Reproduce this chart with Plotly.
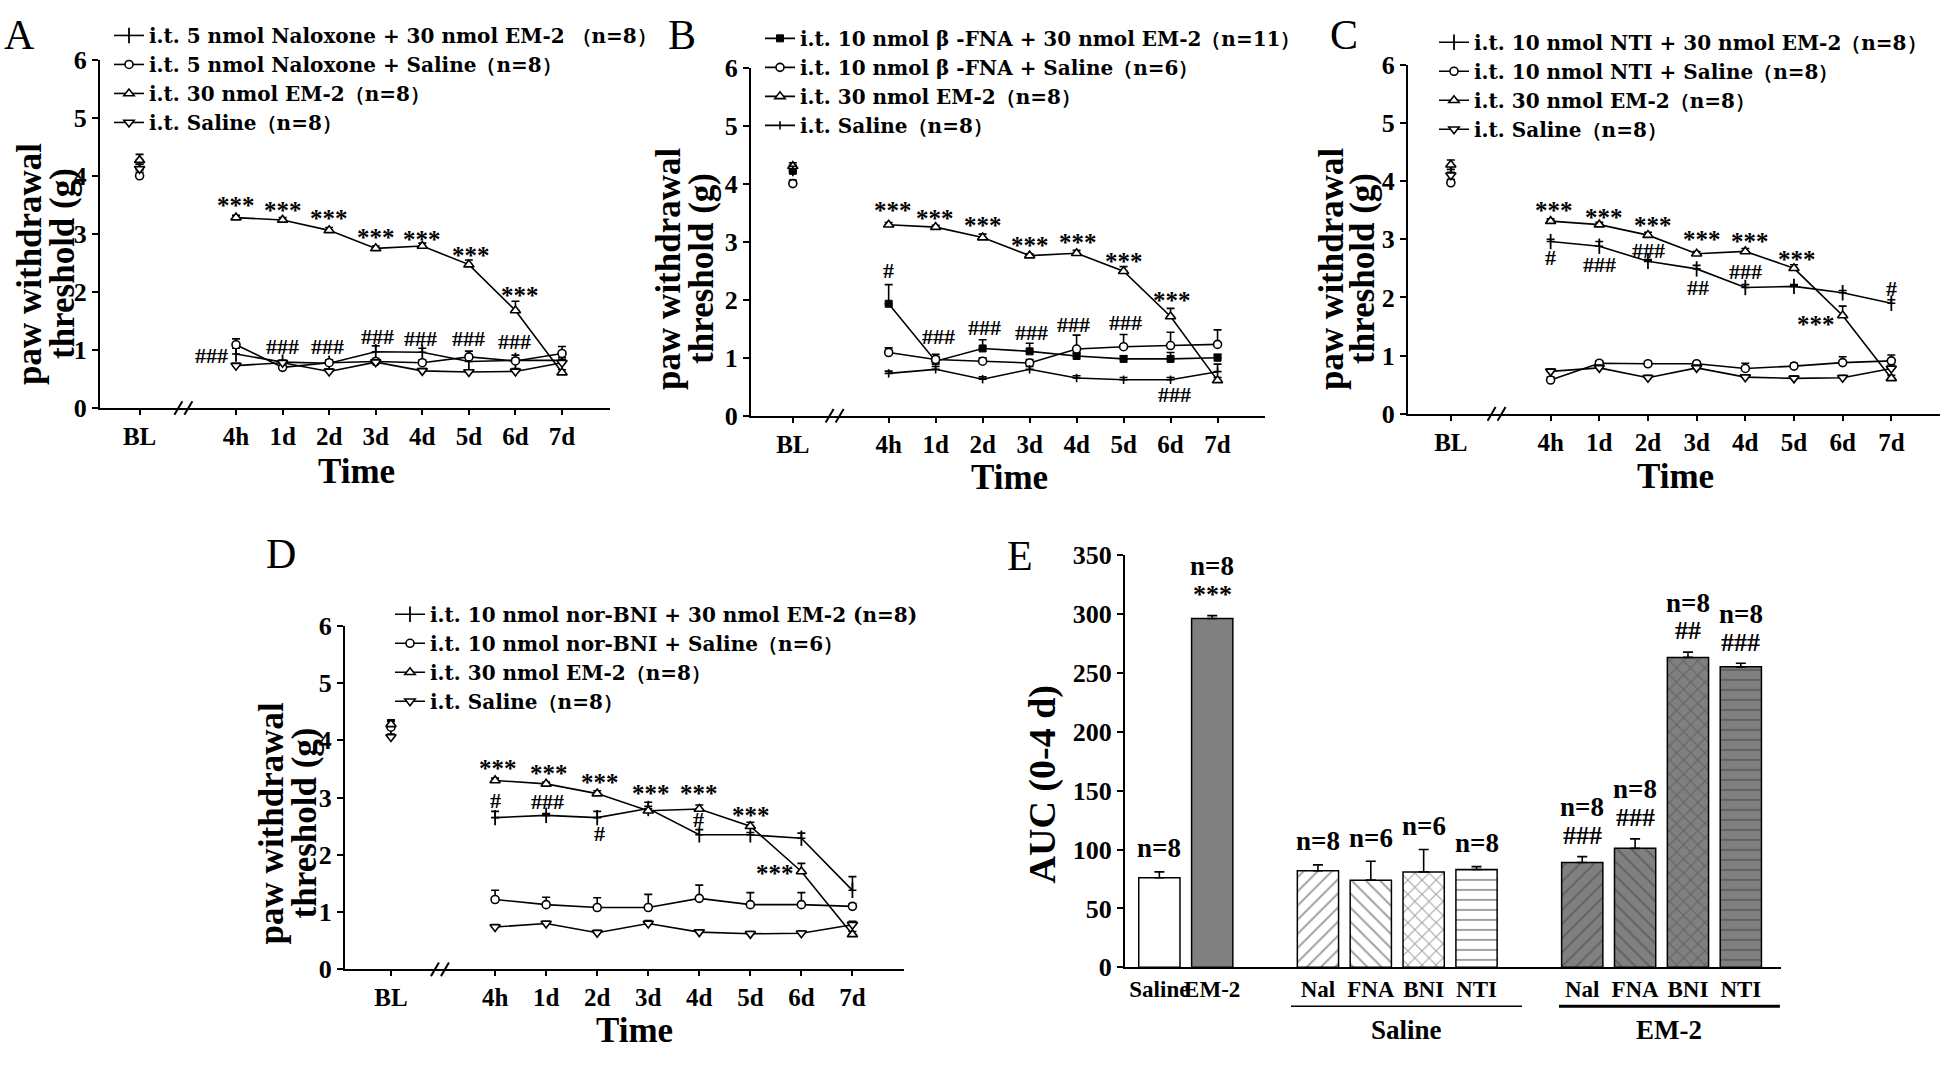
import plotly.graph_objects as go

W, H = 1946, 1067
SERIF = "Liberation Serif"
WIDE = "DejaVu Serif"

# ---------------- data ----------------
TIME_LABELS = ["BL", "4h", "1d", "2d", "3d", "4d", "5d", "6d", "7d"]

# Panel A
A_NAMES = ["i.t. 5 nmol Naloxone + 30 nmol EM-2 （n=8）",
           "i.t. 5 nmol Naloxone + Saline（n=8）",
           "i.t. 30 nmol EM-2（n=8）",
           "i.t. Saline（n=8）"]
A_NAL_EM2 = [4.10, 0.93, 0.79, 0.77, 0.97, 0.96, 0.80, 0.82, 0.82]
A_NAL_EM2_SEM = [0.10, 0.10, 0.03, 0.05, 0.10, 0.07, 0.05, 0.04, 0.05]
A_NAL_SAL = [4.00, 1.09, 0.70, 0.78, 0.80, 0.78, 0.88, 0.81, 0.94]
A_NAL_SAL_SEM = [0.06, 0.10, 0.03, 0.05, 0.05, 0.05, 0.10, 0.10, 0.12]
A_EM2 = [4.27, 3.28, 3.24, 3.06, 2.75, 2.79, 2.47, 1.68, 0.61]
A_EM2_SEM = [0.10, 0.04, 0.04, 0.05, 0.04, 0.05, 0.08, 0.16, 0.05]
A_SAL = [4.12, 0.73, 0.78, 0.63, 0.79, 0.64, 0.62, 0.63, 0.78]
A_SAL_SEM = [0.08, 0.04, 0.04, 0.04, 0.04, 0.04, 0.04, 0.05, 0.06]

# Panel B
B_NAMES = ["i.t. 10 nmol β -FNA + 30 nmol EM-2（n=11）",
           "i.t. 10 nmol β -FNA + Saline（n=6）",
           "i.t. 30 nmol EM-2（n=8）",
           "i.t. Saline（n=8）"]
B_FNA_EM2 = [4.22, 1.93, 0.94, 1.16, 1.11, 1.03, 0.98, 0.98, 1.00]
B_FNA_EM2_SEM = [0.10, 0.33, 0.12, 0.15, 0.14, 0.05, 0.05, 0.11, 0.06]
B_FNA_SAL = [4.00, 1.09, 0.97, 0.94, 0.91, 1.15, 1.19, 1.21, 1.23]
B_FNA_SAL_SEM = [0.06, 0.08, 0.05, 0.06, 0.06, 0.24, 0.21, 0.23, 0.25]
B_EM2 = [4.30, 3.29, 3.25, 3.07, 2.76, 2.80, 2.49, 1.71, 0.61]
B_EM2_SEM = [0.06, 0.04, 0.03, 0.06, 0.03, 0.05, 0.08, 0.14, 0.05]
B_SAL = [4.20, 0.73, 0.80, 0.63, 0.80, 0.65, 0.62, 0.62, 0.76]
B_SAL_SEM = [0.10, 0.04, 0.05, 0.04, 0.05, 0.04, 0.04, 0.04, 0.13]

# Panel C
C_NAMES = ["i.t. 10 nmol NTI + 30 nmol EM-2（n=8）",
           "i.t. 10 nmol NTI + Saline（n=8）",
           "i.t. 30 nmol EM-2（n=8）",
           "i.t. Saline（n=8）"]
C_NTI_EM2 = [4.15, 2.96, 2.88, 2.62, 2.49, 2.17, 2.19, 2.08, 1.90]
C_NTI_EM2_SEM = [0.10, 0.04, 0.08, 0.03, 0.06, 0.05, 0.03, 0.04, 0.06]
C_NTI_SAL = [3.97, 0.58, 0.87, 0.86, 0.86, 0.78, 0.82, 0.88, 0.91]
C_NTI_SAL_SEM = [0.06, 0.05, 0.04, 0.04, 0.03, 0.09, 0.05, 0.10, 0.10]
C_EM2 = [4.28, 3.31, 3.25, 3.07, 2.75, 2.79, 2.50, 1.69, 0.61]
C_EM2_SEM = [0.08, 0.04, 0.04, 0.05, 0.04, 0.05, 0.06, 0.16, 0.05]
C_SAL = [4.10, 0.73, 0.79, 0.62, 0.79, 0.63, 0.61, 0.62, 0.78]
C_SAL_SEM = [0.10, 0.04, 0.05, 0.04, 0.05, 0.04, 0.04, 0.04, 0.06]

# Panel D
D_NAMES = ["i.t. 10 nmol nor-BNI + 30 nmol EM-2 (n=8)",
           "i.t. 10 nmol nor-BNI + Saline（n=6）",
           "i.t. 30 nmol EM-2（n=8）",
           "i.t. Saline（n=8）"]
D_BNI_EM2 = [4.22, 2.65, 2.69, 2.65, 2.81, 2.35, 2.35, 2.29, 1.38]
D_BNI_EM2_SEM = [0.12, 0.11, 0.03, 0.11, 0.11, 0.09, 0.04, 0.09, 0.24]
D_BNI_SAL = [4.23, 1.22, 1.13, 1.08, 1.08, 1.24, 1.13, 1.13, 1.10]
D_BNI_SAL_SEM = [0.10, 0.16, 0.13, 0.17, 0.23, 0.23, 0.21, 0.21, 0.05]
D_EM2 = [4.28, 3.30, 3.24, 3.07, 2.77, 2.80, 2.50, 1.71, 0.61]
D_EM2_SEM = [0.08, 0.04, 0.03, 0.05, 0.08, 0.07, 0.07, 0.14, 0.05]
D_SAL = [4.06, 0.74, 0.80, 0.64, 0.80, 0.65, 0.62, 0.63, 0.78]
D_SAL_SEM = [0.05, 0.04, 0.04, 0.04, 0.05, 0.04, 0.04, 0.04, 0.06]

# Panel E
E_LABELS = ["Saline", "EM-2", "Nal", "FNA", "BNI", "NTI", "Nal", "FNA", "BNI", "NTI"]
E_AUC = [76, 296, 82, 74, 81, 83, 89, 101, 263, 255]
E_SEM = [5, 2.5, 5, 16, 19, 2.5, 5, 8, 4.5, 3]
E_N = ["n=8", "n=8", "n=8", "n=6", "n=6", "n=8", "n=8", "n=8", "n=8", "n=8"]
E_SIG = ["", "***", "", "", "", "", "###", "###", "##", "###"]
E_GROUPS = ["Saline", "EM-2"]

# significance labels (x in time-slot units, y in g)
A_MARKS = [(0, 3.48, "***"), (1, 3.40, "***"), (2, 3.26, "***"), (3, 2.93, "***"),
           (4, 2.90, "***"), (5.04, 2.62, "***"), (6.09, 1.93, "***"),
           (-0.52, 0.91, "###"), (1, 1.06, "###"), (1.96, 1.06, "###"), (3.04, 1.23, "###"),
           (3.96, 1.20, "###"), (5, 1.20, "###"), (5.98, 1.15, "###")]
B_MARKS = [(0.09, 3.54, "***"), (0.98, 3.40, "***"), (2.01, 3.27, "***"), (3, 2.93, "***"),
           (4.03, 2.99, "***"), (5.01, 2.65, "***"), (6.04, 1.99, "***"),
           (0, 2.5, "#"), (1.06, 1.36, "###"), (2.04, 1.52, "###"), (3.03, 1.44, "###"),
           (3.94, 1.58, "###"), (5.04, 1.61, "###"), (6.09, 0.36, "###")]
C_MARKS = [(0.06, 3.49, "***"), (1.09, 3.38, "***"), (2.11, 3.24, "***"), (3.1, 2.99, "***"),
           (4.1, 2.96, "***"), (5.07, 2.65, "***"), (5.45, 1.54, "***"),
           (0, 2.68, "#"), (1.01, 2.57, "###"), (2.01, 2.81, "###"), (3.02, 2.17, "##"),
           (4.0, 2.44, "###"), (7.0, 2.15, "#")]
D_MARKS = [(0.05, 3.51, "***"), (1.05, 3.42, "***"), (2.06, 3.26, "***"), (3.05, 3.07, "***"),
           (3.99, 3.08, "***"), (5.02, 2.69, "***"), (5.48, 1.67, "***"),
           (0, 2.95, "#"), (1.03, 2.93, "###"), (2.04, 2.37, "#"), (3.99, 2.62, "#")]

# ---------------- layout helpers ----------------
def dom_x(a, b):
    return [a / W, b / W]


def dom_y(top, bot):
    return [1 - bot / H, 1 - top / H]


def bold(size, family=SERIF):
    return dict(family=family, size=size, color="black", weight="bold")


def note(text, x, y, xref="paper", yref="paper", font=None, angle=0):
    """x/y are pixels (from top-left) when the ref is 'paper', data values otherwise."""
    if xref == "paper":
        x = x / W
    if yref == "paper":
        y = 1 - y / H
    return dict(text=text, x=x, y=y, xref=xref, yref=yref, showarrow=False,
                xanchor="center", yanchor="middle", textangle=angle, font=font)


SYM_PLUS = dict(symbol="line-ns-open", size=11, color="black", line=dict(color="black", width=1.8))
SYM_CIRC = dict(symbol="circle", size=8, color="white", line=dict(color="black", width=1.6))
SYM_TUP = dict(symbol="triangle-up", size=9, color="white", line=dict(color="black", width=1.6))
SYM_TDN = dict(symbol="triangle-down", size=9, color="white", line=dict(color="black", width=1.6))
SYM_SQ = dict(symbol="square", size=7, color="black", line=dict(color="black", width=1))
SYM_TICK = dict(symbol="line-ns-open", size=6, color="black", line=dict(color="black", width=1.6))

PANELS = [
    dict(letter="A", px=(100, 610, 47, 405), rng=(-2.92, 8.03), bl=-2.07, brk=-1.13,
         leg=(109, 2), letter_xy=(19, 22), ytl=(29, 62), yty=257, time=(356, 470),
         names=A_NAMES, ys=[A_NAL_EM2, A_NAL_SAL, A_EM2, A_SAL],
         es=[A_NAL_EM2_SEM, A_NAL_SAL_SEM, A_EM2_SEM, A_SAL_SEM],
         syms=[SYM_PLUS, SYM_CIRC, SYM_TUP, SYM_TDN], marks=A_MARKS),
    dict(letter="B", px=(751, 1265, 55, 413), rng=(-2.93, 8.01), bl=-2.04, brk=-1.15,
         leg=(760, 5), letter_xy=(682, 22), ytl=(669, 702), yty=262, time=(1010, 476),
         names=B_NAMES, ys=[B_FNA_EM2, B_FNA_SAL, B_EM2, B_SAL],
         es=[B_FNA_EM2_SEM, B_FNA_SAL_SEM, B_EM2_SEM, B_SAL_SEM],
         syms=[SYM_SQ, SYM_CIRC, SYM_TUP, SYM_TICK], marks=B_MARKS),
    dict(letter="C", px=(1408, 1940, 52, 411), rng=(-2.93, 8.0), bl=-2.05, brk=-1.11,
         leg=(1434, 9), letter_xy=(1344, 22), ytl=(1332, 1363), yty=262, time=(1675, 475),
         names=C_NAMES, ys=[C_NTI_EM2, C_NTI_SAL, C_EM2, C_SAL],
         es=[C_NTI_EM2_SEM, C_NTI_SAL_SEM, C_EM2_SEM, C_SAL_SEM],
         syms=[SYM_PLUS, SYM_CIRC, SYM_TUP, SYM_TDN], marks=C_MARKS),
    dict(letter="D", px=(345, 904, 629, 982), rng=(-2.94, 8.01), bl=-2.04, brk=-1.08,
         leg=(390, 597), letter_xy=(281, 555), ytl=(271, 304), yty=832, time=(634, 1045),
         names=D_NAMES, ys=[D_BNI_EM2, D_BNI_SAL, D_EM2, D_SAL],
         es=[D_BNI_EM2_SEM, D_BNI_SAL_SEM, D_EM2_SEM, D_SAL_SEM],
         syms=[SYM_PLUS, SYM_CIRC, SYM_TUP, SYM_TDN], marks=D_MARKS),
]

fig = go.Figure()
annotations = []
shapes = []
layout = {}

for i, p in enumerate(PANELS, start=1):
    xa = "x" if i == 1 else f"x{i}"
    ya = "y" if i == 1 else f"y{i}"
    xk = "xaxis" if i == 1 else f"xaxis{i}"
    yk = "yaxis" if i == 1 else f"yaxis{i}"
    lg = "legend" if i == 1 else f"legend{i}"
    x0, x1, yt, yb = p["px"]
    r0, r1 = p["rng"]
    xpos = [p["bl"]] + list(range(8))

    for name, ys, es, sym in zip(p["names"], p["ys"], p["es"], p["syms"]):
        xs = [xpos[0], None] + xpos[1:]
        yy = [ys[0], None] + ys[1:]
        ee = [es[0], 0] + es[1:]
        fig.add_trace(go.Scatter(
            x=xs, y=yy, mode="lines+markers", name=name, xaxis=xa, yaxis=ya, legend=lg,
            line=dict(color="black", width=1.6), marker=sym, connectgaps=False,
            error_y=dict(type="data", array=ee, arrayminus=[0] * len(ee), symmetric=False,
                         color="black", thickness=1.6, width=4),
            cliponaxis=False))

    layout[xk] = dict(domain=dom_x(x0, x1), range=[r0, r1], anchor=ya,
                      tickvals=xpos, ticktext=TIME_LABELS, tickangle=0,
                      showline=True, linecolor="black", linewidth=2, mirror=False,
                      ticks="outside", ticklen=5, tickwidth=2, tickcolor="black",
                      showgrid=False, zeroline=False, tickfont=bold(25))
    layout[yk] = dict(domain=dom_y(yt, yb), range=[0, 6], anchor=xa, dtick=1,
                      showline=True, linecolor="black", linewidth=2,
                      ticks="outside", ticklen=6, tickwidth=2, tickcolor="black",
                      showgrid=False, zeroline=False, tickfont=bold(26))
    layout[lg] = dict(x=p["leg"][0] / W, y=1 - p["leg"][1] / H, xanchor="left", yanchor="top",
                      font=bold(20, WIDE), bgcolor="rgba(0,0,0,0)", itemwidth=30,
                      traceorder="normal", tracegroupgap=0)

    # axis break //
    bx = x0 + (p["brk"] - r0) / (r1 - r0) * (x1 - x0)
    for dx in (-5, 5):
        shapes.append(dict(type="line", xref="paper", yref="paper",
                           x0=(bx + dx - 4) / W, y0=1 - (yb + 7) / H,
                           x1=(bx + dx + 4) / W, y1=1 - (yb - 7) / H,
                           line=dict(color="black", width=2)))

    annotations.append(note(p["letter"], *p["letter_xy"], font=dict(family=SERIF, size=42, color="black")))
    annotations.append(note("paw withdrawal", p["ytl"][0], p["yty"], font=bold(35), angle=-90))
    annotations.append(note("threshold (g)", p["ytl"][1], p["yty"], font=bold(35), angle=-90))
    annotations.append(note("Time", *p["time"], font=bold(35)))
    for mx, my, mt in p["marks"]:
        sz = 25 if mt == "***" else 22
        annotations.append(note(mt, mx, my, xref=xa, yref=ya, font=bold(sz)))

# ---------------- Panel E ----------------
E_PX = (1125, 1781, 556, 980)
E_RNG = (-0.65, 11.76)
e_x = [0, 1, 3, 4, 5, 6, 8, 9, 10, 11]
e_shape = ["", "", "/", "\\", "x", "-", "/", "\\", "x", "-"]
e_bg = ["white", "#808080", "white", "white", "white", "white",
        "#808080", "#808080", "#808080", "#808080"]
fig.add_trace(go.Bar(
    x=e_x, y=E_AUC, width=0.78, xaxis="x5", yaxis="y5", showlegend=False,
    marker=dict(color=e_bg, line=dict(color="black", width=1.5),
                pattern=dict(shape=e_shape, bgcolor=e_bg, fgcolor="black", size=10, solidity=0.2)),
    error_y=dict(type="data", array=E_SEM, arrayminus=[0] * len(E_SEM), symmetric=False,
                 color="black", thickness=1.6, width=5)))

layout["xaxis5"] = dict(domain=dom_x(E_PX[0], E_PX[1]), range=list(E_RNG), anchor="y5",
                        tickvals=e_x, ticktext=E_LABELS, tickangle=0, ticks="",
                        showline=True, linecolor="black", linewidth=2, showgrid=False,
                        zeroline=False, tickfont=bold(23))
layout["yaxis5"] = dict(domain=dom_y(E_PX[2], E_PX[3]), range=[0, 350], dtick=50, anchor="x5",
                        showline=True, linecolor="black", linewidth=2,
                        ticks="outside", ticklen=6, tickwidth=2, tickcolor="black",
                        showgrid=False, zeroline=False, tickfont=bold(26))

for xv, v, s, n, sig in zip(e_x, E_AUC, E_SEM, E_N, E_SIG):
    top = v + s
    if sig:
        annotations.append(note(sig, xv, top + 18, xref="x5", yref="y5", font=bold(26)))
        annotations.append(note(n, xv, top + 42, xref="x5", yref="y5", font=bold(27)))
    else:
        annotations.append(note(n, xv, top + 20, xref="x5", yref="y5", font=bold(27)))

# group underlines and labels
for (g0, g1), gname, lw in zip([(2.49, 6.86), (7.56, 11.74)], E_GROUPS, [1.5, 3]):
    shapes.append(dict(type="line", xref="x5", yref="paper", x0=g0, x1=g1,
                       y0=1 - 1020 / H, y1=1 - 1020 / H, line=dict(color="black", width=lw)))
    annotations.append(note(gname, (g0 + g1) / 2, 1044, xref="x5", yref="paper",
                            font=bold(27)))

annotations.append(note("E", 1020, 557, font=dict(family=SERIF, size=42, color="black")))
annotations.append(note("AUC (0-4 d)", 1042, 792, font=bold(38), angle=-90))

fig.update_layout(
    width=W, height=H, margin=dict(l=0, r=0, t=0, b=0),
    paper_bgcolor="white", plot_bgcolor="white", showlegend=True,
    annotations=annotations, shapes=shapes, **layout)

fig.write_html("out.html", config={"displayModeBar": False},
               post_script="document.body.style.margin='0';")
